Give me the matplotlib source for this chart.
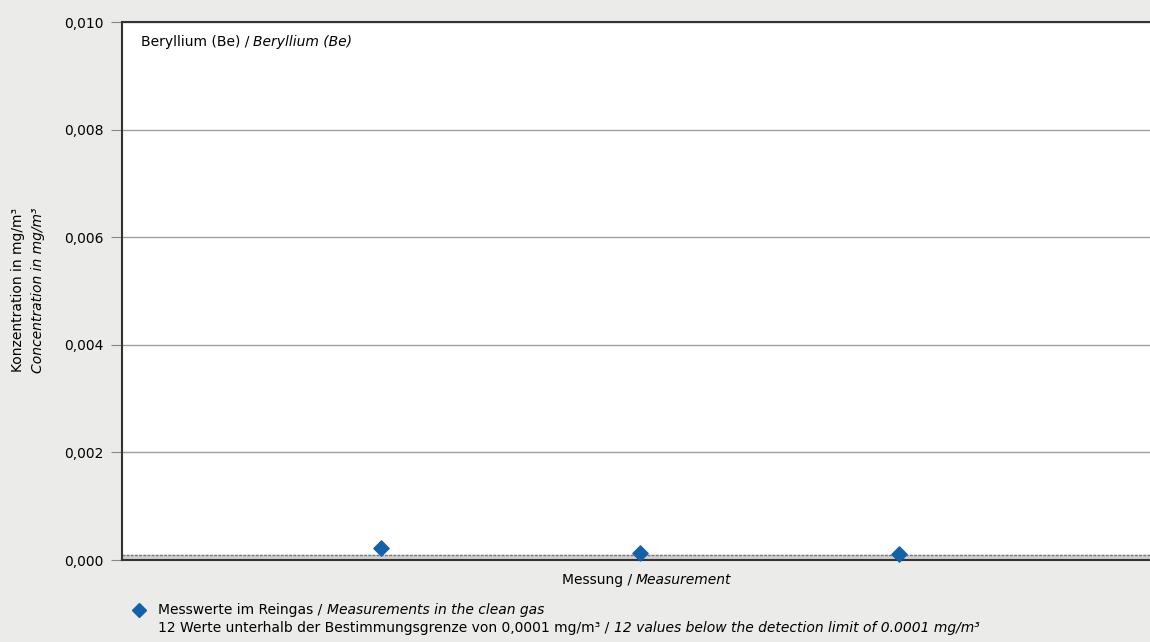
import matplotlib
matplotlib.use("Agg")
import matplotlib.pyplot as plt
from matplotlib.ticker import FuncFormatter

# data
messung = [1, 2, 3]
werte = [0.00022, 0.00013, 0.00011]
grenze = 0.0001
y_ticks = [0.000, 0.002, 0.004, 0.006, 0.008, 0.010]

plt.rcParams['font.family'] = ['DejaVu Sans']
bg = '#ebecea'
blau = '#1461a9'
fs = 10

fig = plt.figure(figsize=(11.5, 6.42), dpi=100, facecolor=bg)
ax = fig.add_axes([122/1150, 1 - 560/642, 1028/1150, 538/642])
ax.set_facecolor('white')

ax.set_xlim(0, 3.97)
ax.set_ylim(0, 0.010)
ax.set_yticks(y_ticks)
ax.yaxis.set_major_formatter(FuncFormatter(lambda v, p: f"{v:.3f}".replace('.', ',')))
ax.set_xticks([])
ax.grid(axis='y', color='#a0a0a0', linewidth=1)
ax.set_axisbelow(True)
ax.tick_params(axis='y', length=8, color='#888888', labelsize=fs, pad=5)

for s in ['left', 'bottom', 'top']:
    ax.spines[s].set_color('#333333')
    ax.spines[s].set_linewidth(1.5)
ax.spines['right'].set_visible(False)

# Bestimmungsgrenze
ax.axhspan(0, grenze, color='#cfcfcf', zorder=1)
ax.axhline(grenze, color='#777777', linestyle=(0, (2, 1)), linewidth=1, zorder=2)

ax.scatter(messung, werte, marker='D', s=60, color=blau, zorder=5, clip_on=False)

# Titel im Diagramm
t1 = ax.text(0.018, 0.975, "Beryllium (Be) / ", transform=ax.transAxes,
             fontsize=fs, va='top', ha='left')
ax.annotate("Beryllium (Be)", xy=(1, 0), xycoords=t1, va='bottom', ha='left',
            fontsize=fs, style='italic')

# y-Achse
fig.text(18/1150, 1 - 290/642, "Konzentration in mg/m³", rotation=90,
         ha='center', va='center', fontsize=fs)
fig.text(38/1150, 1 - 290/642, "Concentration in mg/m³", rotation=90,
         ha='center', va='center', fontsize=fs, style='italic')

# x-Achse
fig.text(636/1150, 1 - 580/642, "Messung / ", ha='right', va='center', fontsize=fs)
fig.text(636/1150, 1 - 580/642, "Measurement", ha='left', va='center', fontsize=fs, style='italic')

# Legende
fig.lines.append(plt.Line2D([139/1150], [1 - 610/642], marker='D', markersize=7,
                            color=blau, linestyle='none', transform=fig.transFigure))
l1 = fig.text(158/1150, 1 - 610/642, "Messwerte im Reingas / ", ha='left', va='center', fontsize=fs)
ax.annotate("Measurements in the clean gas", xy=(1, 0.5), xycoords=l1, va='center',
            ha='left', fontsize=fs, style='italic', annotation_clip=False)
l2 = fig.text(158/1150, 1 - 628/642, "12 Werte unterhalb der Bestimmungsgrenze von 0,0001 mg/m³ / ",
              ha='left', va='center', fontsize=fs)
ax.annotate("12 values below the detection limit of 0.0001 mg/m³", xy=(1, 0.5), xycoords=l2,
            va='center', ha='left', fontsize=fs, style='italic', annotation_clip=False)

fig.savefig("out.png", dpi=100, facecolor=bg)
